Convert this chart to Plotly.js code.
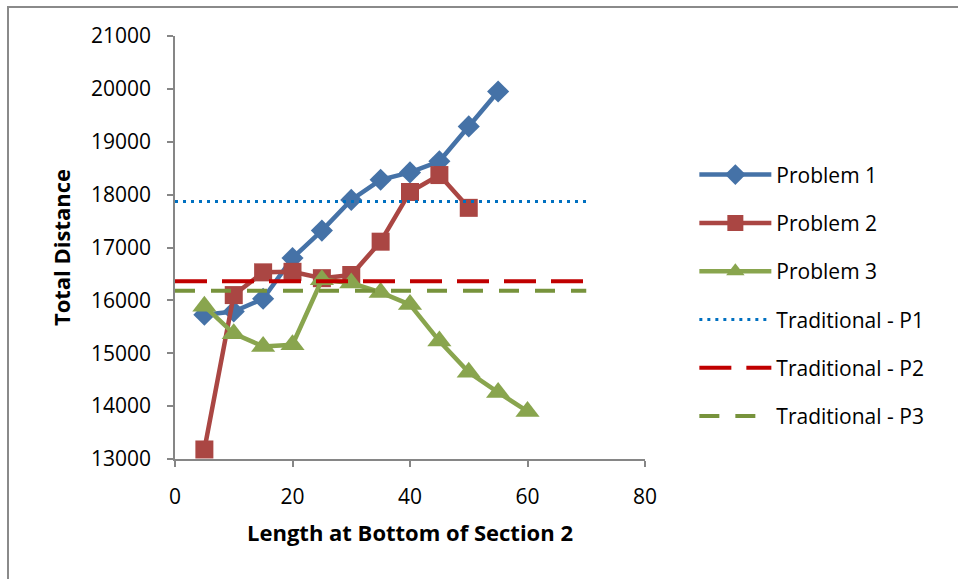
<!DOCTYPE html>
<html>
<head>
<meta charset="utf-8">
<script src="https://cdn.plot.ly/plotly-3.0.1.min.js"></script>
<style>
  html, body { margin: 0; padding: 0; background: #fff; }
  #chart { width: 958px; height: 579px; }
</style>
</head>
<body>
<div id="chart"></div>
<script>
// Data
const lengths = [5, 10, 15, 20, 25, 30, 35, 40, 45, 50, 55, 60];
const problem1 = [15730, 15790, 16030, 16800, 17320, 17900, 18280, 18420, 18630, 19290, 19950];
const problem2 = [13180, 16100, 16530, 16540, 16420, 16480, 17110, 18050, 18370, 17750];
const problem3 = [15890, 15370, 15130, 15160, 16390, 16330, 16150, 15920, 15230, 14640, 14260, 13900];
const tradX = [0, 70];
const tradP1 = [17870, 17870];
const tradP2 = [16360, 16360];
const tradP3 = [16180, 16180];
const xTicks = [0, 20, 40, 60, 80];
const yTicks = [13000, 14000, 15000, 16000, 17000, 18000, 19000, 20000, 21000];

const FONT = 'Open Sans, Noto Sans, Liberation Sans, sans-serif';
const AXIS = '#868686';

const traces = [
  {
    name: 'Problem 1', legendgroup: 'g1',
    x: lengths.slice(0, problem1.length), y: problem1,
    mode: 'lines+markers', type: 'scatter',
    line: { color: '#4572A7', width: 4.5 },
    marker: { symbol: 'diamond', size: 17, color: '#4572A7' }
  },
  {
    name: 'Problem 2', legendgroup: 'g2',
    x: lengths.slice(0, problem2.length), y: problem2,
    mode: 'lines+markers', type: 'scatter',
    line: { color: '#AA4643', width: 4.5 },
    marker: { symbol: 'square', size: 18, color: '#AA4643' }
  },
  {
    name: 'Problem 3', legendgroup: 'g3',
    x: lengths.slice(0, problem3.length), y: problem3,
    mode: 'lines+markers', type: 'scatter',
    line: { color: '#89A54E', width: 4.5 },
    marker: { symbol: 'triangle-up', size: 21, color: '#89A54E' }
  },
  {
    name: 'Traditional - P1', legendgroup: 'g4',
    x: tradX, y: tradP1, mode: 'lines', type: 'scatter',
    line: { color: '#0070C0', width: 3, dash: '3px,5px' }
  },
  {
    name: 'Traditional - P2', legendgroup: 'g5',
    x: tradX, y: tradP2, mode: 'lines', type: 'scatter',
    line: { color: '#C00000', width: 4, dash: '32px,15px' }
  },
  {
    name: 'Traditional - P3', legendgroup: 'g6',
    x: tradX, y: tradP3, mode: 'lines', type: 'scatter',
    line: { color: '#77933C', width: 4, dash: '20px,16px' }
  }
];

const layout = {
  width: 958, height: 579,
  margin: { l: 175, r: 313, t: 36, b: 120 },
  paper_bgcolor: '#fff', plot_bgcolor: '#fff',
  font: { family: FONT, size: 21, color: '#000' },
  showlegend: true,
  legend: {
    x: 1.105, xanchor: 'left', y: 0.72, yanchor: 'top',
    font: { family: FONT, size: 21, color: '#000' },
    itemwidth: 72, tracegroupgap: 18,
    bgcolor: 'rgba(0,0,0,0)'
  },
  xaxis: {
    range: [0, 80], tickvals: xTicks, ticktext: xTicks.map(String),
    showgrid: false, zeroline: false,
    showline: true, linecolor: AXIS, linewidth: 1.5,
    ticks: 'outside', ticklen: 6, tickcolor: AXIS, tickwidth: 1.5,
    ticklabelstandoff: 12,
    tickfont: { family: FONT, size: 21, color: '#000' },
    title: { text: 'Length at Bottom of Section 2', font: { family: FONT, size: 22, color: '#000', weight: 'bold' }, standoff: 17 }
  },
  yaxis: {
    range: [13000, 21000], tickvals: yTicks, ticktext: yTicks.map(String),
    showgrid: false, zeroline: false,
    showline: true, linecolor: AXIS, linewidth: 1.5,
    ticks: 'outside', ticklen: 6, tickcolor: AXIS, tickwidth: 1.5,
    ticklabelstandoff: 12,
    tickfont: { family: FONT, size: 21, color: '#000' },
    title: { text: 'Total Distance', font: { family: FONT, size: 22, color: '#000', weight: 'bold' }, standoff: 14 }
  },
  shapes: [
    {
      type: 'rect', xref: 'paper', yref: 'paper',
      x0: (8 - 175) / 470, x1: 1.8, y0: -0.5, y1: (459 - 7) / 423,
      line: { color: '#8a8a8a', width: 2 }, fillcolor: 'rgba(0,0,0,0)', layer: 'below'
    }
  ]
};

Plotly.newPlot('chart', traces, layout, { displayModeBar: false, responsive: false });
</script>
</body>
</html>
